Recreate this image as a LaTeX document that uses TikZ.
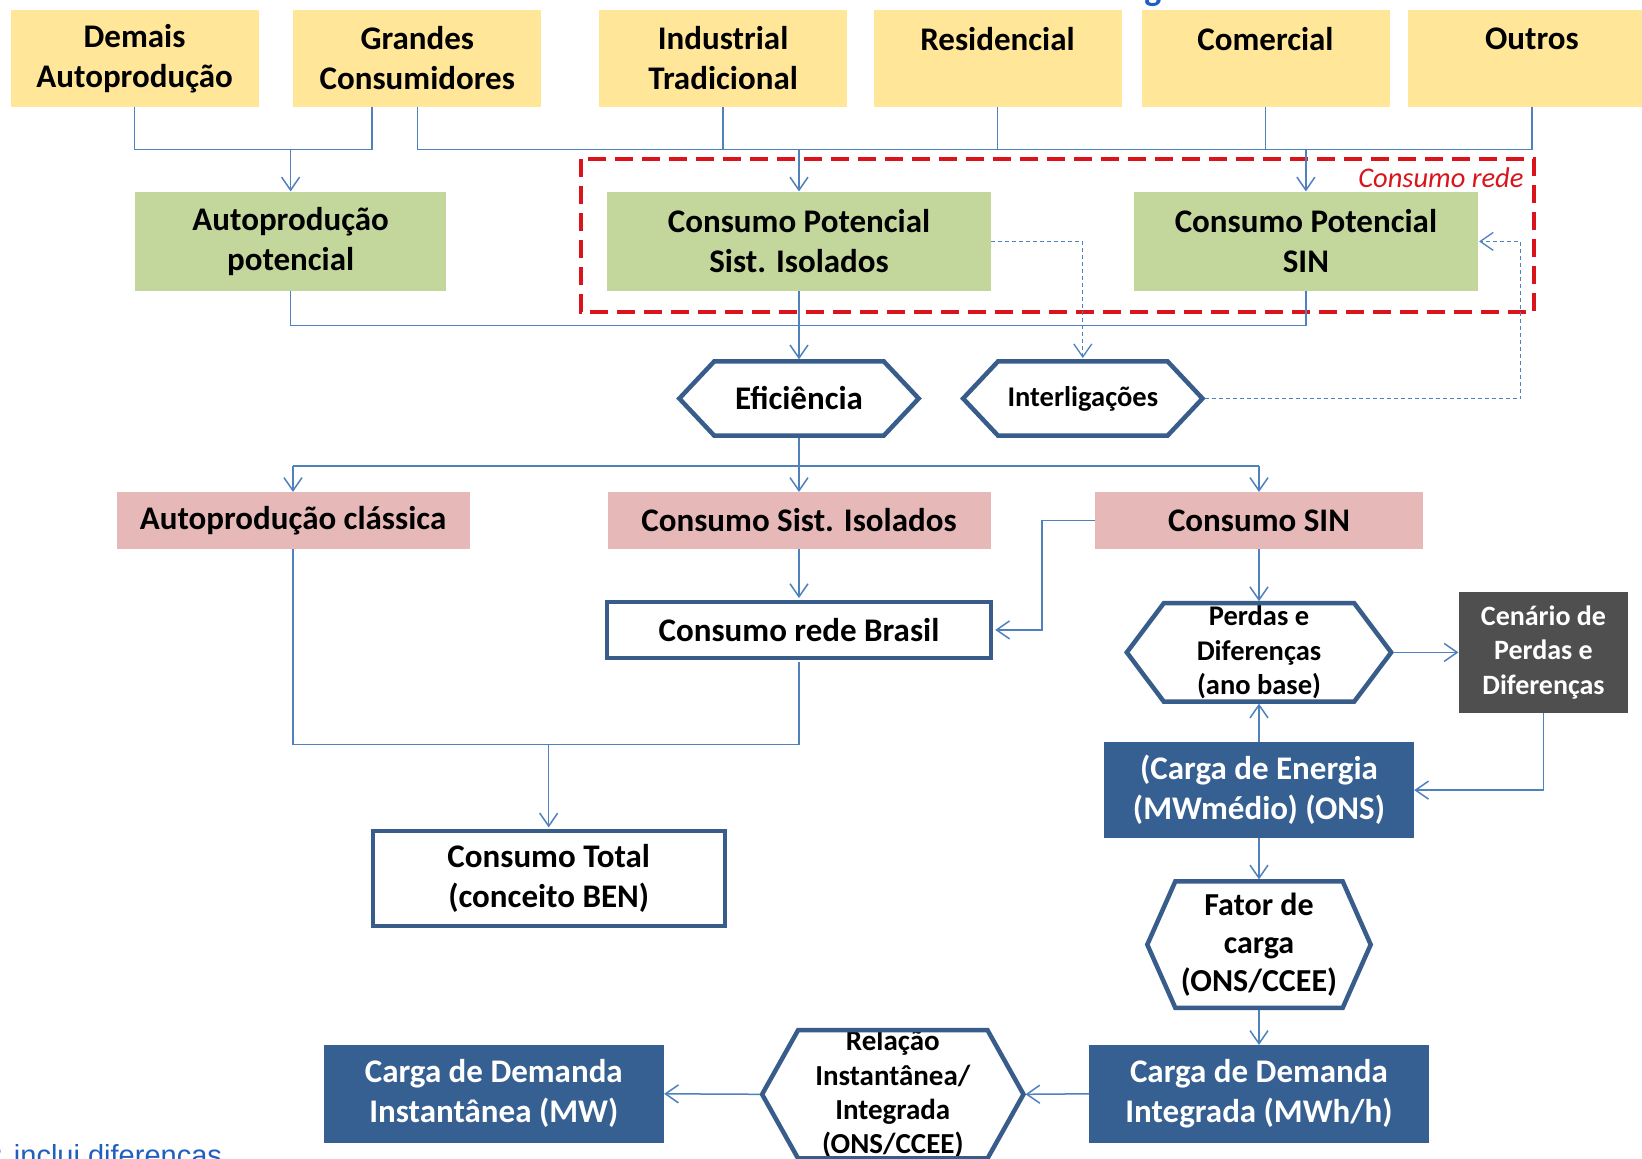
\documentclass[tikz,border=0pt]{standalone}
\usepackage{fontspec}
\setmainfont{Carlito}
\newfontfamily\arialf{Liberation Sans}
\usetikzlibrary{arrows.meta}
\definecolor{ylw}{HTML}{FFE699}
\definecolor{grn}{HTML}{C3D69B}
\definecolor{pnk}{HTML}{E6B9B8}
\definecolor{dblue}{HTML}{366092}
\definecolor{dgray}{HTML}{4F4F4F}
\definecolor{lnblue}{HTML}{4F81BD}
\definecolor{hexblue}{HTML}{385D8A}
\definecolor{rdash}{HTML}{D9141B}
\definecolor{txtblue}{HTML}{1F5FBF}
\newcommand{\hexdraw}[2]{\draw[hexline] (#1.west) -- ([xshift=#2]#1.north west) -- ([xshift=-#2]#1.north east) -- (#1.east) -- ([xshift=-#2]#1.south east) -- ([xshift=#2]#1.south west) -- cycle;}
\begin{document}
\begin{tikzpicture}[x=1pt,y=-1pt,
 base/.style={font=\bfseries\fontsize{33}{40}\selectfont, align=center, inner sep=0pt, text=black},
 ybox/.style={base, fill=ylw, minimum width=248pt, minimum height=97.4pt},
 gbox/.style={base, fill=grn, minimum height=99.5pt},
 pbox/.style={base, fill=pnk, minimum height=56.5pt},
 wbox/.style={base, draw=hexblue, line width=4pt, fill=white},
 bbox/.style={base, fill=dblue, text=white},
 hexn/.style={base},
 hexline/.style={draw=hexblue, line width=4.5pt, line join=miter},
 conn/.style={draw=lnblue, line width=1.5pt},
 arr/.style={conn, -{Straight Barb[length=13pt,width=18pt,line width=1.5pt]}},
 dconn/.style={draw=lnblue, line width=1.3pt, dash pattern=on 4pt off 3pt},
 darr/.style={dconn, -{Straight Barb[length=13pt,width=18pt,line width=1.3pt,sep]}},
 rbox/.style={draw=rdash, line width=4.5pt, dash pattern=on 18pt off 9pt}
]
\clip (0,0) rectangle (1642,1159);
\useasboundingbox (0,0) rectangle (1642,1159);
\fill[white] (0,0) rectangle (1642,1159);

% top row
\node[ybox] (dem) at (134.6,58.5) {Demais\\Autoprodução};
\node[ybox] (gra) at (417.3,58.5) {Grandes\\Consumidores};
\node[ybox] (ind) at (723.1,58.5) {Industrial\\Tradicional};
\node[ybox] (res) at (997.5,58.5) {Residencial\\\phantom{X}};
\node[ybox] (com) at (1265.5,58.5) {Comercial\\\phantom{X}};
\node[ybox] (out) at (1532,58.5) {Outros\\\phantom{X}};

% title fragment
\node[font=\bfseries\fontsize{36}{40}\selectfont, text=txtblue, anchor=base, inner sep=0pt] (tfrag) at (1153,0) {g};

% green row
\node[gbox, minimum width=311pt] (ap) at (290.6,241.4) {Autoprodução\\potencial};
\node[gbox, minimum width=384.4pt] (cpi) at (799,241.4) {Consumo Potencial\\Sist. Isolados};
\node[gbox, minimum width=343.5pt] (cps) at (1305.9,241.4) {Consumo Potencial\\SIN};

% red dashed region
\draw[rbox] (581.2,159.2) rectangle (1534.1,312.1);
\node[font=\itshape\fontsize{28.5}{32}\selectfont, text=rdash, anchor=east, inner sep=0pt] (crede) at (1523.7,178) {Consumo rede};

% hexagons 1
\node[hexn, font=\bfseries\fontsize{33}{36}\selectfont, minimum width=239pt, minimum height=74pt] (efi) at (799,398.5) {Eficiência};
\hexdraw{efi}{35pt}
\node[hexn, font=\bfseries\fontsize{28.5}{32}\selectfont, minimum width=239pt, minimum height=74pt] (intl) at (1082.8,398.5) {Interligações};
\hexdraw{intl}{35pt}

% pink row
\node[pbox, minimum width=353pt] (apc) at (293,520.4) {Autoprodução clássica};
\node[pbox, minimum width=383pt] (csi) at (799,520.4) {Consumo Sist. Isolados};
\node[pbox, minimum width=328pt] (csin) at (1259,520.4) {Consumo SIN};

% white boxes
\node[wbox, minimum width=384.5pt, minimum height=55.7pt] (crb) at (799,629.9) {Consumo rede Brasil};
\node[wbox, minimum width=352pt, minimum height=94.4pt] (ct) at (548.7,878.6) {Consumo Total\\(conceito BEN)};

% right column
\node[hexn, font=\bfseries\fontsize{28.5}{34.5}\selectfont, minimum width=264pt, minimum height=98pt] (per) at (1259,652.4) {Perdas e\\Diferenças\\(ano base)};
\hexdraw{per}{37pt}
\node[base, fill=dgray, text=white, font=\bfseries\fontsize{28}{34.5}\selectfont, minimum width=169.7pt, minimum height=120.4pt] (cen) at (1543.5,652.4) {Cenário de\\Perdas e\\Diferenças};
\node[bbox, minimum width=310pt, minimum height=95.3pt] (ce) at (1259,790.1) {(Carga de Energia\\(MWmédio) (ONS)};
\node[hexn, font=\bfseries\fontsize{32}{37.7}\selectfont, minimum width=223pt, minimum height=126pt] (fat) at (1259,944.6) {Fator de\\carga\\(ONS/CCEE)};
\hexdraw{fat}{28pt}
\node[bbox, minimum width=339.3pt, minimum height=97.4pt] (cdi) at (1259,1093.8) {Carga de Demanda\\Integrada (MWh/h)};
\node[hexn, font=\bfseries\fontsize{29}{34.4}\selectfont, minimum width=261pt, minimum height=126pt] (rel) at (892.8,1094.3) {Relação\\Instantânea/\\Integrada\\(ONS/CCEE)};
\hexdraw{rel}{36pt}
\node[bbox, minimum width=340.3pt, minimum height=97.4pt] (cdin) at (493.8,1093.8) {Carga de Demanda\\Instantânea (MW)};

% footnote fragment
\node[font=\arialf\fontsize{29}{32}\selectfont, text=txtblue, anchor=base west, inner sep=0pt] (foot) at (-5,1165) {: inclui diferenças};

% junction coordinates
\coordinate (bus1) at (0,149.7);
\coordinate (bus2) at (0,325.7);
\coordinate (bus3) at (0,466);
\coordinate (bus4) at (0,744.6);
\coordinate (dR) at (1520.5,0);
\coordinate (kx) at (1042,0);

% connectors top
\draw[conn] (dem.south) |- ([xshift=-45.5pt]gra.south |- bus1) -- ([xshift=-45.5pt]gra.south);
\draw[arr] (ap.north |- bus1) -- (ap.north);
\draw[conn] (gra.south) |- (out.south |- bus1) -- (out.south);
\draw[conn] (ind.south) -- (ind.south |- bus1);
\draw[conn] (res.south) -- (res.south |- bus1);
\draw[conn] (com.south) -- (com.south |- bus1);
\draw[arr] (cpi.north |- bus1) -- (cpi.north);
\draw[arr] (cps.north |- bus1) -- (cps.north);

% below green
\draw[conn] (ap.south) |- (cps.south |- bus2) -- (cps.south);
\draw[arr] (cpi.south) -- ([yshift=2pt]efi.north);
\draw[darr] (cpi.east) -| ([yshift=2pt]intl.north);
\draw[darr] ([xshift=2pt]intl.east) -| (dR |- cps.east) -- (cps.east);

% eficiencia to pink
\draw[conn] ([yshift=-2pt]efi.south) -- (efi.south |- bus3);
\draw[conn] (apc.north |- bus3) -- (csin.north |- bus3);
\draw[arr] (apc.north |- bus3) -- (apc.north);
\draw[arr] (csi.north |- bus3) -- (csi.north);
\draw[arr] (csin.north |- bus3) -- (csin.north);

% pink to white
\draw[arr] (csi.south) -- ([yshift=2pt]crb.north);
\draw[arr] (csin.west) -- (csin.west -| kx) |- ([xshift=2pt]crb.east);
\draw[conn] (apc.south) |- (crb.south |- bus4) -- ([yshift=-2pt]crb.south);
\draw[arr] (ct.north |- bus4) -- ([yshift=2pt]ct.north);

% right column
\draw[arr] (csin.south) -- ([yshift=2pt]per.north);
\draw[arr] ([xshift=2pt]per.east) -- (cen.west);
\draw[arr] (cen.south) |- (ce.east);
\draw[arr] (ce.north) -- ([yshift=-2pt]per.south);
\draw[arr] (ce.south) -- ([yshift=2pt]fat.north);
\draw[arr] ([yshift=-2pt]fat.south) -- (cdi.north);
\draw[arr] (cdi.west) -- ([xshift=2pt]rel.east);
\draw[arr] ([xshift=-2pt]rel.west) -- (cdin.east);
\end{tikzpicture}
\end{document}
